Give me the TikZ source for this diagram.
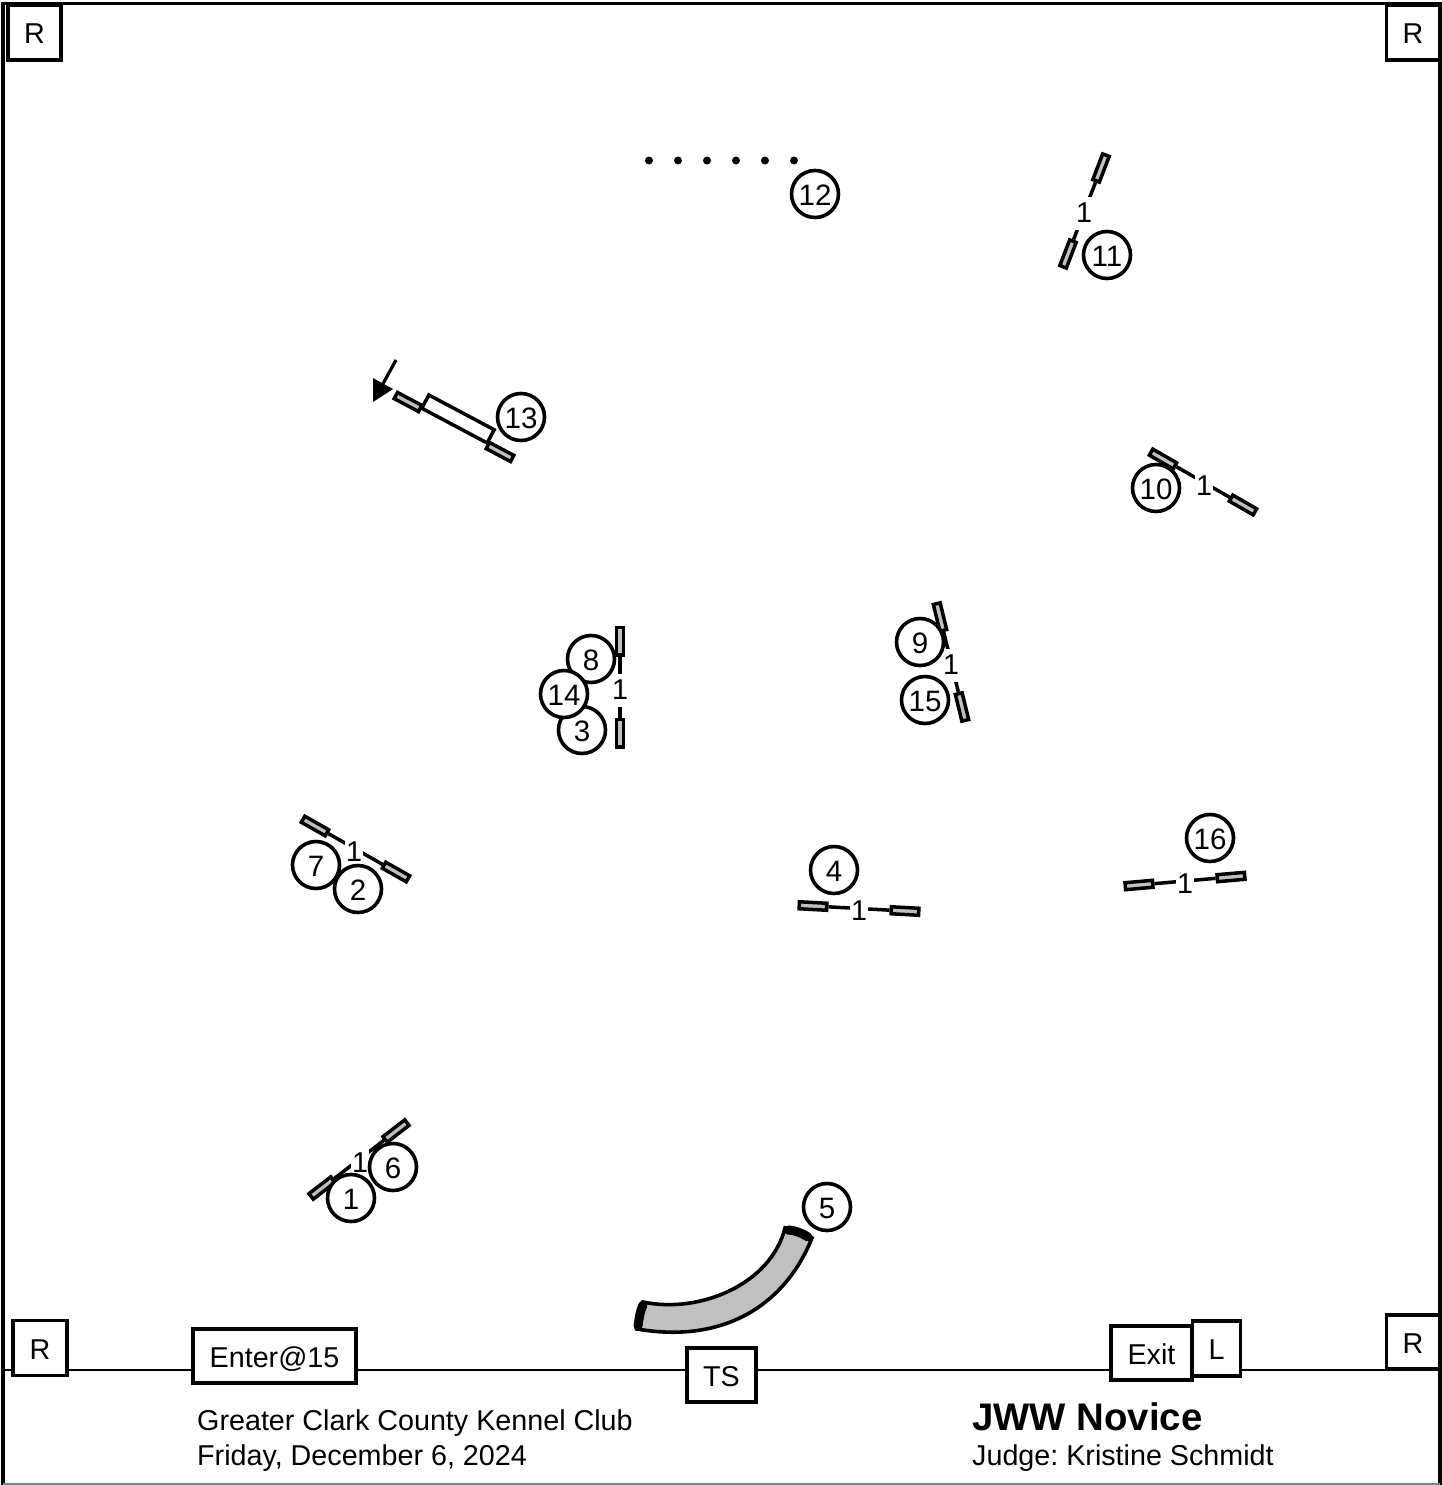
\documentclass[tikz,border=0pt]{standalone}
\usepackage{fontspec}
\setmainfont{Liberation Sans}
\usetikzlibrary{arrows.meta}
\definecolor{bargray}{HTML}{C0C0C0}
\tikzset{
  every node/.style={font=\fontsize{28.7}{32}\selectfont, text=black},
  bar/.style={draw, line width=3.5pt, fill=bargray, minimum width=27.5pt, minimum height=7pt, inner sep=0pt},
  barlink/.style={line width=3.5pt},
  barlabel/.style={fill=white, minimum width=18pt, minimum height=33pt, inner sep=0pt, yshift=-1pt},
  num/.style={circle, draw, line width=3.6pt, fill=white, minimum size=47pt, inner sep=0pt,
    font=\fontsize{29.5}{32}\selectfont, text height=22pt, text depth=0pt},
  ringbox/.style={draw, line width=3.6pt, fill=white, inner sep=0pt, text height=22pt, text depth=0pt},
  pole/.style={circle, fill=black, minimum size=8pt, inner sep=0pt},
  caption/.style={anchor=base west, inner sep=0pt},
}
\newcommand{\jumpobs}[7]{%
  \pgfmathsetmacro{\jang}{-atan2(#5-#3,#4-#2)}%
  \node[bar, rotate=\jang] (#1a) at (#2,#3) {};
  \node[bar, rotate=\jang] (#1b) at (#4,#5) {};
  \draw[barlink] (#1a) -- (#1b);
  \node[barlabel] (#1l) at (#6,#7) {1};
}
\begin{document}
\begin{tikzpicture}[x=1pt,y=-1pt]
\useasboundingbox (0,0) rectangle (1442,1485);
\fill[white] (0,0) rectangle (1442,1485);
% ring
\draw[line width=3.2pt] (3,1485) -- (3,3.5) -- (1440,3.5) -- (1440,1485);
\draw[line width=1.5pt, gray] (3,1484) -- (1440,1484);
\coordinate (ringL) at (3,1370);
\coordinate (ringR) at (1440,1370);
\draw[line width=2.6pt] (ringL) -- (ringR);
% weave poles
\foreach \i/\x in {1/649,2/678,3/707,4/736,5/765,6/794}
  \node[pole] (w\i) at (\x,160.5) {};
% jumps
\jumpobs{jA}{1101}{168}{1068}{254}{1084}{212}
\jumpobs{jB}{1163}{459}{1243}{505}{1204}{485}
\jumpobs{jC}{940}{617}{962}{707}{951}{664}
\jumpobs{jD}{620}{641}{620}{733}{620}{689}
\jumpobs{jE}{315}{826}{396}{872}{354}{851}
\jumpobs{jF}{813}{906}{905}{911}{859}{910}
\jumpobs{jG}{1139}{885}{1231}{877}{1185}{883}
\jumpobs{jH}{396}{1131}{322}{1188}{360}{1162}
% panel jump
\node[draw, line width=3.5pt, fill=white, rotate=-28, minimum width=74pt, minimum height=15pt, inner sep=0pt] (panel) at (458,419) {};
\node[bar, rotate=-28] (pa) at (408,402) {};
\node[bar, rotate=-28] (pb) at (500,452) {};
% start arrow
\coordinate (arrS) at (396,360);
\coordinate (arrE) at (373,402);
\draw[line width=3.2pt, -{Triangle[length=21pt,width=22pt]}] (arrS) -- (arrE);
% tunnel
\draw[line width=3.6pt, fill=bargray] (643,1302) .. controls (700,1314) and (771,1284) .. (785,1228)
  -- (812,1238) .. controls (785,1305) and (724,1344) .. (637,1329) -- cycle;
\draw[line width=9pt, line cap=round] (788,1230) .. controls (794,1230) and (802,1233) .. (808,1237);
\draw[line width=9pt, line cap=round] (643,1305) .. controls (640,1311) and (639,1319) .. (638,1326);
% numbers
\foreach \n/\x/\y in {12/815/194, 11/1107/255, 13/521/417, 10/1156/488, 9/920/642, 15/925/700,
  8/591/659, 3/582/730, 14/564/694, 7/316/865, 2/358/889, 4/834/870, 16/1210/838, 6/393/1167, 1/351/1198, 5/827/1207}
  \node[num] (n\n) at (\x,\y) {\n};
% boxes
\node[ringbox, minimum width=53pt, minimum height=55pt] (r1) at (34.5,32.5) {R};
\node[ringbox, minimum width=53pt, minimum height=55pt] (r2) at (1413,32.5) {R};
\node[ringbox, minimum width=54pt, minimum height=55pt] (r3) at (40,1348) {R};
\node[ringbox, minimum width=53pt, minimum height=54pt] (r4) at (1413,1342) {R};
\node[ringbox, minimum width=163pt, minimum height=54pt] (enter) at (274.5,1356) {Enter@15};
\node[ringbox, minimum width=69pt, minimum height=54pt] (ts) at (721.5,1375) {TS};
\node[ringbox, minimum width=48pt, minimum height=55pt] (lbox) at (1216.5,1348.5) {L};
\node[ringbox, minimum width=81pt, minimum height=54pt] (exit) at (1151.5,1353) {Exit};
% captions
\node[caption] (c1) at (197,1430) {Greater Clark County Kennel Club};
\node[caption] (c2) at (197,1465) {Friday, December 6, 2024};
\node[caption, font=\fontsize{38.4}{42}\selectfont\bfseries] (c3) at (972,1430) {JWW Novice};
\node[caption] (c4) at (972,1465) {\frenchspacing Judge: Kristine Schmidt};
\end{tikzpicture}
\end{document}
